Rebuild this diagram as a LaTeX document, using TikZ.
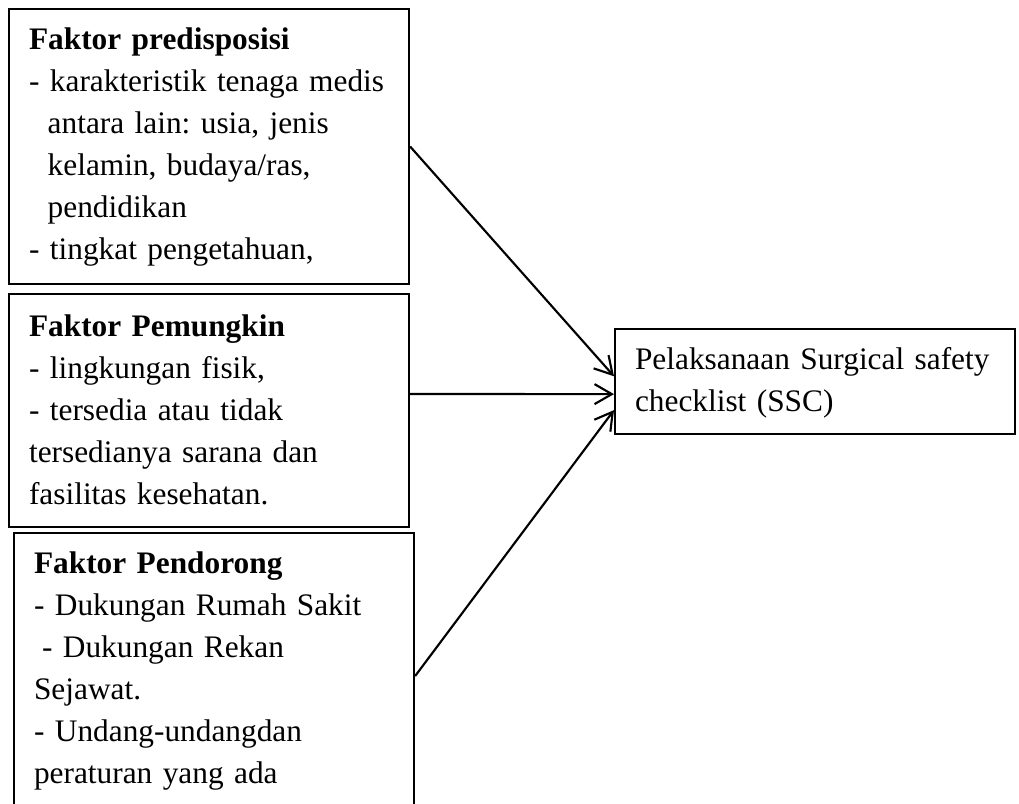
\documentclass[tikz,border=0pt]{standalone}
\usepackage{fontspec}
\setmainfont{Liberation Serif}
\usetikzlibrary{arrows.meta}

\begin{document}
\begin{tikzpicture}[x=0.375pt,y=-0.375pt,>={Straight Barb[length=6.5pt,width=7.5pt]},
  factorbox/.style={draw,line width=0.8pt,anchor=north west,align=left,inner xsep=0pt,inner ysep=0pt,text width=150pt,
    execute at begin node={\leftskip=7.5pt\relax},font=\fontsize{11.75pt}{15.75pt}\selectfont\frenchspacing}]
  \path[use as bounding box,clip] (0,0) rectangle (1019,804);
  \node[factorbox,text height=15pt,text depth=88.1pt] (pred) at (8,8) {\textbf{Faktor predisposisi}\\- karakteristik tenaga medis\\\hspace*{7pt}antara lain: usia, jenis\\\hspace*{7pt}kelamin, budaya/ras,\\\hspace*{7pt}pendidikan\\- tingkat pengetahuan,};
  \node[factorbox,text height=15.75pt,text depth=71.6pt] (pemu) at (8,293) {\textbf{Faktor Pemungkin}\\- lingkungan fisik,\\- tersedia atau tidak\\tersedianya sarana dan\\fasilitas kesehatan.};
  \node[factorbox,text height=15pt,text depth=92.25pt] (pend) at (13,532) {\textbf{Faktor Pendorong}\\- Dukungan Rumah Sakit\\\hspace*{3pt}- Dukungan Rekan\\Sejawat.\\- Undang-undangdan\\peraturan yang ada};
  \node[factorbox,text height=15pt,text depth=24.4pt] (ssc) at (614,328) {Pelaksanaan Surgical safety\\checklist (SSC)};
  \draw[->,line width=0.8pt] (pred.east) -- ([yshift=2pt]ssc.west);
  \draw[->,line width=0.8pt] ([yshift=6.2pt]pemu.east) -- ([yshift=-4.7pt]ssc.west);
  \draw[->,line width=0.8pt] (pend.east) -- ([yshift=-10.7pt]ssc.west);
\end{tikzpicture}
\end{document}
